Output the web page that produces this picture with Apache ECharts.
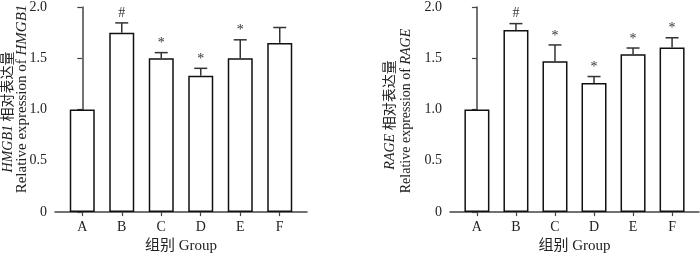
<!DOCTYPE html>
<html>
<head>
<meta charset="utf-8">
<style>
  html, body { margin: 0; padding: 0; background: #fff; }
  #main { width: 700px; height: 259px; }
</style>
<script src="https://cdn.jsdelivr.net/npm/echarts@6/dist/echarts.min.js"></script>
</head>
<body>
<div id="main"></div>
<script>
// groups
var groups = ['A', 'B', 'C', 'D', 'E', 'F'];
var yTicks = [0, 0.5, 1.0, 1.5, 2.0];

// HMGB1 (left panel)
var hmgb1Mean = [1.0, 1.75, 1.5, 1.33, 1.5, 1.65];
var hmgb1Err  = [0, 0.095, 0.055, 0.072, 0.18, 0.15];
var hmgb1Sig  = ['', '#', '*', '*', '*', ''];

// RAGE (right panel)
var rageMean = [1.0, 1.775, 1.47, 1.26, 1.54, 1.605];
var rageErr  = [0, 0.063, 0.16, 0.062, 0.06, 0.095];
var rageSig  = ['', '#', '*', '*', '*', '*'];

var serif = '"Liberation Serif", "Noto Sans CJK SC", serif';
var ink = '#222';
var axisCol = '#444';

var dom = document.getElementById('main');
var myChart = echarts.init(dom);

function xAx(idx) {
    return {
        gridIndex: idx,
        type: 'value',
        min: -0.69,
        max: 5.69,
        splitLine: { show: false },
        axisLine: { lineStyle: { color: axisCol, width: 1.5 } },
        axisTick: { customValues: [0, 1, 2, 3, 4, 5], length: 4, lineStyle: { color: axisCol, width: 1.2 } },
        axisLabel: {
            customValues: [0, 1, 2, 3, 4, 5],
            formatter: function (v) { return groups[Math.round(v)]; },
            fontFamily: serif, fontSize: 14, color: ink, margin: 8
        },
        name: '组别 Group',
        nameLocation: 'middle',
        nameGap: 25,
        nameTextStyle: { fontFamily: serif, fontSize: 15, color: ink }
    };
}

function yAx(idx) {
    return {
        gridIndex: idx,
        type: 'value',
        min: 0,
        max: 2,
        interval: 0.5,
        splitLine: { show: false },
        axisLine: { show: true, lineStyle: { color: axisCol, width: 1.5 } },
        axisTick: { show: true, length: 5, lineStyle: { color: axisCol, width: 1.2 } },
        axisLabel: {
            formatter: function (v) { return v === 0 ? '0' : v.toFixed(1); },
            fontFamily: serif, fontSize: 14, color: ink, margin: 8
        }
    };
}

function barSeries(idx, data) {
    return {
        type: 'bar',
        xAxisIndex: idx,
        yAxisIndex: idx,
        barWidth: 25,
        data: data.map(function (v, i) { return [i, v]; }),
        itemStyle: { color: '#fff', borderColor: '#111', borderWidth: 1.5 },
        silent: true,
        z: 2
    };
}

function errSeries(idx, mean, err, sig) {
    return {
        type: 'custom',
        xAxisIndex: idx,
        yAxisIndex: idx,
        data: mean.map(function (v, i) { return [i, v, v + err[i]]; }),
        renderItem: function (params, api) {
            var i = api.value(0);
            var base = api.coord([i, api.value(1)]);
            var top = api.coord([i, api.value(2)]);
            var children = [];
            if (api.value(2) > api.value(1)) {
                children.push({
                    type: 'line',
                    shape: { x1: base[0], y1: base[1], x2: top[0], y2: top[1] },
                    style: { stroke: '#333', lineWidth: 1.5 }
                });
                children.push({
                    type: 'line',
                    shape: { x1: top[0] - 6.5, y1: top[1], x2: top[0] + 6.5, y2: top[1] },
                    style: { stroke: '#333', lineWidth: 1.5 }
                });
            }
            var s = sig[params.dataIndex];
            if (s) {
                children.push({
                    type: 'text',
                    x: top[0],
                    y: top[1] - (s === '#' ? 3 : 2),
                    style: {
                        text: s,
                        fontFamily: serif,
                        fontSize: 14,
                        fill: '#333',
                        align: 'center',
                        verticalAlign: 'bottom'
                    }
                });
            }
            return { type: 'group', children: children };
        },
        z: 3
    };
}

function yTitle(cx1, cx2, cy1, cy2, gene, fs2) {
    var rich = {
        i: { fontFamily: serif, fontSize: 14, fontStyle: 'italic', fill: ink },
        n: { fontFamily: serif, fontSize: 14, fill: ink },
        i2: { fontFamily: serif, fontSize: fs2, fontStyle: 'italic', fill: ink },
        n2: { fontFamily: serif, fontSize: fs2, fill: ink }
    };
    return [{
        type: 'text',
        x: cx1, y: cy1,
        rotation: Math.PI / 2,
        style: {
            text: '{i|' + gene + '}{n| 相对表达量}',
            rich: rich,
            align: 'center',
            verticalAlign: 'middle'
        }
    }, {
        type: 'text',
        x: cx2, y: cy2,
        rotation: Math.PI / 2,
        style: {
            text: '{n2|Relative expression of }{i2|' + gene + '}',
            rich: rich,
            align: 'center',
            verticalAlign: 'middle'
        }
    }];
}

option = {
    animation: false,
    backgroundColor: '#fff',
    grid: [
        { left: 55, right: 393, top: 7, bottom: 39 },
        { left: 450, right: 1, top: 7, bottom: 39 }
    ],
    xAxis: [xAx(0), xAx(1)],
    yAxis: [yAx(0), yAx(1)],
    series: [
        barSeries(0, hmgb1Mean),
        errSeries(0, hmgb1Mean, hmgb1Err, hmgb1Sig),
        barSeries(1, rageMean),
        errSeries(1, rageMean, rageErr, rageSig)
    ],
    graphic: yTitle(8, 22, 112, 99, 'HMGB1', 15).concat(yTitle(390, 406, 115, 111, 'RAGE', 14))
};

if (option && typeof option === "object") {
    myChart.setOption(option, true);
}
</script>
</body>
</html>
